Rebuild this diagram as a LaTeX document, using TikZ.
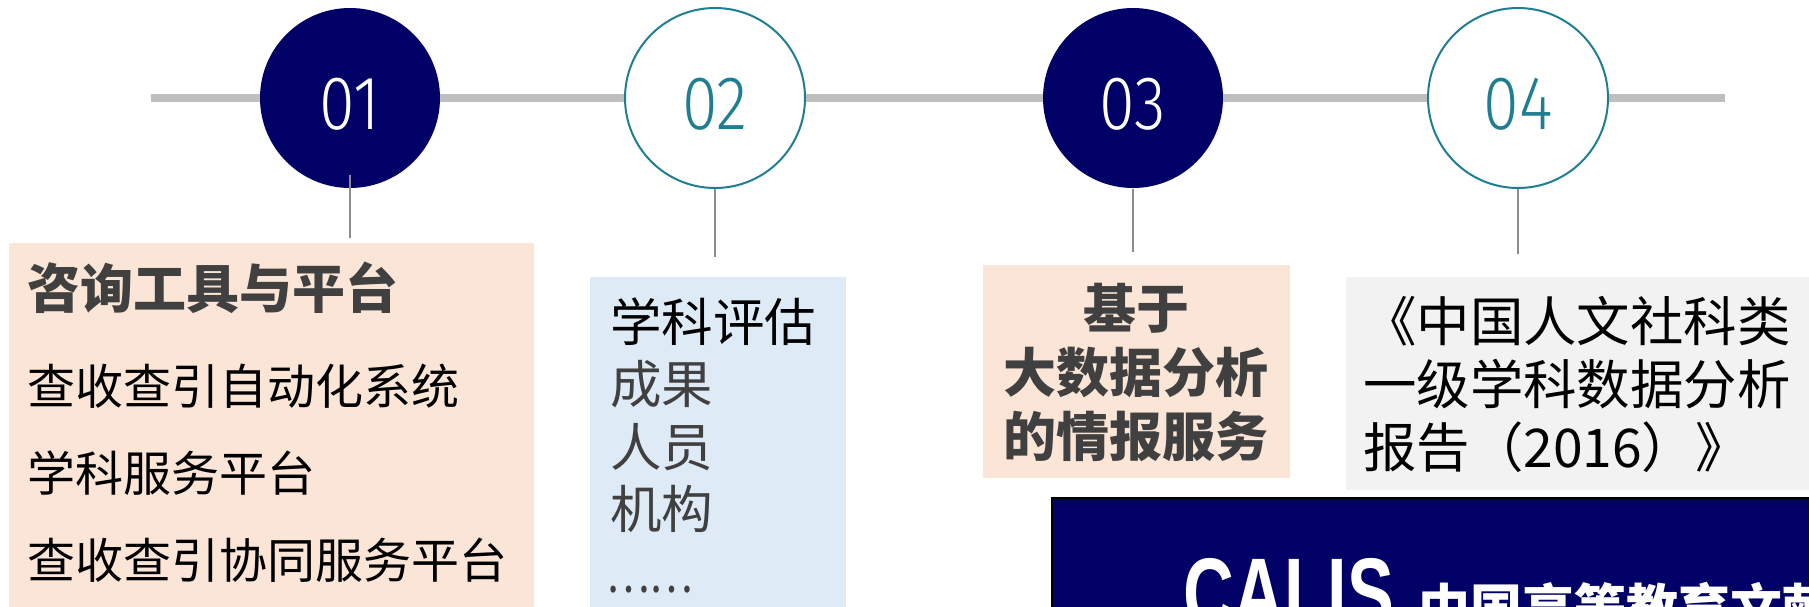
\documentclass[tikz,border=0pt]{standalone}
\usepackage{fontspec}
\setmainfont{Noto Sans CJK SC}
\newfontfamily\numfont{Fira Sans Light}
\newfontfamily\calisfont{Liberation Sans}
\definecolor{navy}{RGB}{0,0,102}
\definecolor{teal}{RGB}{32,126,146}
\definecolor{linegray}{RGB}{191,191,191}
\definecolor{tickgray}{RGB}{140,140,140}
\definecolor{peach}{RGB}{251,229,214}
\definecolor{lightblue}{RGB}{222,235,247}
\definecolor{boxgray}{RGB}{242,242,242}
\definecolor{txtgray}{RGB}{64,64,64}
\newcommand{\numtxt}[1]{\scalebox{0.85}[1]{#1}}
\begin{document}
\begin{tikzpicture}[x=1pt,y=-1pt,
  numcirc/.style={circle, minimum size=180pt, inner sep=0pt, line width=2pt,
    text height=62pt, text depth=0pt, font=\numfont\fontsize{76}{76}\selectfont},
  solidc/.style={numcirc, fill=navy, text=white},
  openc/.style={numcirc, fill=white, draw=teal, text=teal},
  tickline/.style={draw=tickgray, line width=1.5pt},
  txt/.style={inner sep=0pt, anchor=base west},
  ctxt/.style={inner sep=0pt, anchor=base}]
\useasboundingbox (0,0) rectangle (1809,607);
\clip (0,0) rectangle (1809,607);
% timeline
\coordinate (L) at (151,98);
\coordinate (R) at (1725,98);
\draw[linegray, line width=8pt] (L) -- (R);
% tick ends
\coordinate (t1) at (350,238);
\coordinate (t2) at (715,257);
\coordinate (t3) at (1133,252);
\coordinate (t4) at (1518,254);
% boxes
\fill[peach] (9,243) rectangle (534,640);
\fill[lightblue] (590,277) rectangle (846,640);
\fill[peach] (983,265) rectangle (1290,478);
\fill[boxgray] (1346,277) rectangle (1830,490);
\filldraw[fill=navy, draw=black, line width=2pt] (1052,498) rectangle (1840,660);
% circles
\node[solidc] (c1) at (350,98) {\numtxt{01}};
\node[openc] (c2) at (715,98) {\numtxt{02}};
\node[solidc] (c3) at (1133,98) {\numtxt{03}};
\node[openc] (c4) at (1518,98) {\numtxt{04}};
\draw[tickline] ([yshift=14pt]c1.south) -- (t1);
\draw[tickline] (c2.south) -- (t2);
\draw[tickline] (c3.south) -- (t3);
\draw[tickline] (c4.south) -- (t4);
% box 1
\node[txt, text=txtgray, font=\bfseries\fontsize{53}{53}\selectfont] (b1t) at (27,308) {咨询工具与平台};
\node[txt, text=black, font=\fontsize{48}{48}\selectfont] (b1a) at (27,404) {查收查引自动化系统};
\node[txt, text=black, font=\fontsize{48}{48}\selectfont] (b1b) at (27,491) {学科服务平台};
\node[txt, text=black, font=\fontsize{48}{48}\selectfont] (b1c) at (27,578) {查收查引协同服务平台};
% box 2
\node[txt, text=black, font=\fontsize{51.5}{51.5}\selectfont] (b2t) at (610,341) {学科评估};
\node[txt, text=txtgray, font=\fontsize{51.5}{51.5}\selectfont] (b2a) at (610,403) {成果};
\node[txt, text=txtgray, font=\fontsize{51.5}{51.5}\selectfont] (b2b) at (610,466) {人员};
\node[txt, text=txtgray, font=\fontsize{51.5}{51.5}\selectfont] (b2c) at (610,528) {机构};
\node[txt, text=txtgray, font=\fontsize{51.5}{51.5}\selectfont] (b2d) at (606,592) {\scalebox{0.8}[1]{……}};
% box 3
\node[ctxt, text=txtgray, font=\bfseries\fontsize{53}{53}\selectfont] (b3a) at (1136,328) {基于};
\node[ctxt, text=txtgray, font=\bfseries\fontsize{53}{53}\selectfont] (b3b) at (1136,392) {大数据分析};
\node[ctxt, text=txtgray, font=\bfseries\fontsize{53}{53}\selectfont] (b3c) at (1136,456) {的情报服务};
% box 4
\node[txt, text=black, font=\fontsize{53.4}{53.4}\selectfont] (b4a) at (1363,341) {《中国人文社科类};
\node[txt, text=black, font=\fontsize{53.4}{53.4}\selectfont] (b4b) at (1363,404) {一级学科数据分析};
\node[txt, text=black, font=\fontsize{53.4}{53.4}\selectfont] (b4c) at (1363,467) {报告（2016）》};
% navy banner
\node[txt, text=white, font=\calisfont\bfseries\fontsize{99}{99}\selectfont] (cal) at (1183,627) {\scalebox{0.71}[1]{CALIS}};
\node[txt, text=white, font=\bfseries\fontsize{52}{52}\selectfont] (cn) at (1418,627) {中国高等教育文献保障系统};
\end{tikzpicture}
\end{document}
